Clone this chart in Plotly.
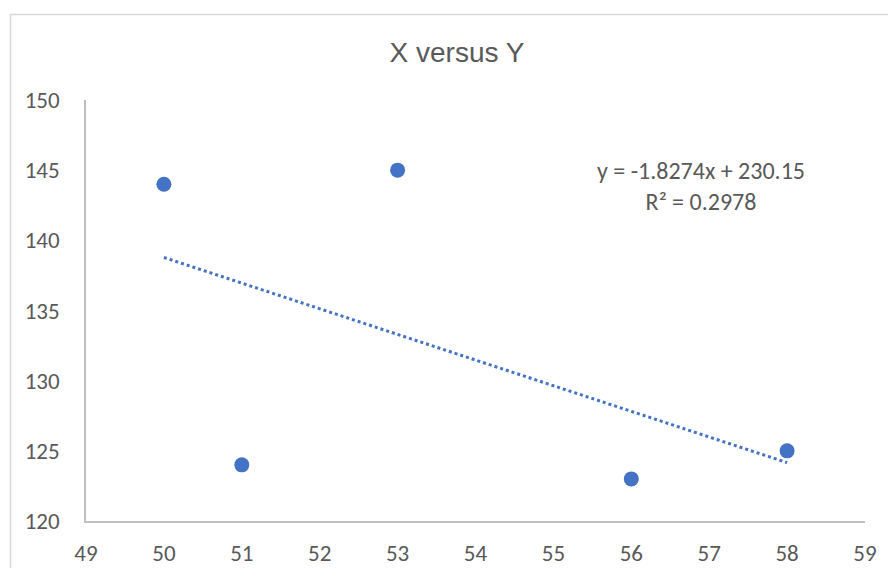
import numpy as np
import plotly.graph_objects as go

x_vals = [50, 51, 53, 56, 58]
y_vals = [144, 124, 145, 123, 125]
x_ticks = list(range(49, 60))
y_ticks = list(range(120, 151, 5))
title_text = "X versus Y"

slope, intercept = np.polyfit(x_vals, y_vals, 1)
pred = np.polyval([slope, intercept], x_vals)
ss_res = np.sum((np.array(y_vals) - pred) ** 2)
ss_tot = np.sum((np.array(y_vals) - np.mean(y_vals)) ** 2)
r2 = 1 - ss_res / ss_tot

trend_x = [min(x_vals), max(x_vals)]
trend_y = [slope * v + intercept for v in trend_x]

blue = "#4472C4"
grey_text = "#595959"
font_fam = "Carlito, Calibri, Lato, sans-serif"

# page body has an 8px margin; figure occupies 8..888 x 8..568
OFF = 8
W, H = 880, 560
L, R, T, B = 86 - OFF, (OFF + W) - 865, 100 - OFF, (OFF + H) - 521
PW, PH = W - L - R, H - T - B

fig = go.Figure()
fig.add_trace(go.Scatter(x=trend_x, y=trend_y, mode="lines",
                         line=dict(color=blue, width=3, dash="dot"),
                         hoverinfo="skip", showlegend=False))
fig.add_trace(go.Scatter(x=x_vals, y=y_vals, mode="markers",
                         marker=dict(color=blue, size=15),
                         showlegend=False))

fig.update_layout(
    width=W, height=H,
    margin=dict(l=L, r=R, t=T, b=B, autoexpand=False),
    paper_bgcolor="white", plot_bgcolor="white",
    title=dict(text=title_text, x=(457 - OFF) / W, xanchor="center",
               y=1 - (52 - OFF) / H, yanchor="middle",
               font=dict(family="Liberation Sans, Arial, sans-serif", size=28, color=grey_text)),
    font=dict(family=font_fam, color=grey_text, size=22),
    xaxis=dict(range=[49, 59], tickvals=x_ticks, showgrid=False, zeroline=False,
               showline=True, linecolor="#BFBFBF", linewidth=1.5, ticks="",
               automargin=False,
               ticklabelstandoff=11, tickfont=dict(size=23, color=grey_text)),
    yaxis=dict(range=[120, 150], tickvals=y_ticks, showgrid=False, zeroline=False,
               showline=True, linecolor="#BFBFBF", linewidth=1.5, ticks="",
               automargin=False,
               ticklabelstandoff=20, tickfont=dict(size=23, color=grey_text)),
    annotations=[dict(
        x=(701 - 86) / PW, y=(521 - 186) / PH, xref="paper", yref="paper",
        xanchor="center", yanchor="middle",
        text=f"y = {slope:.4f}x + {intercept:.2f}<br>R² = {r2:.4f}",
        showarrow=False, align="center",
        font=dict(family=font_fam, size=24, color=grey_text))],
    shapes=[dict(type="rect", xref="paper", yref="paper",
                 x0=(10.5 - 86) / PW, x1=1.2, y0=-0.3, y1=(521 - 14.5) / PH,
                 line=dict(color="#D9D9D9", width=1.5), fillcolor="rgba(0,0,0,0)",
                 layer="below")],
)

fig.write_html("out.html")
